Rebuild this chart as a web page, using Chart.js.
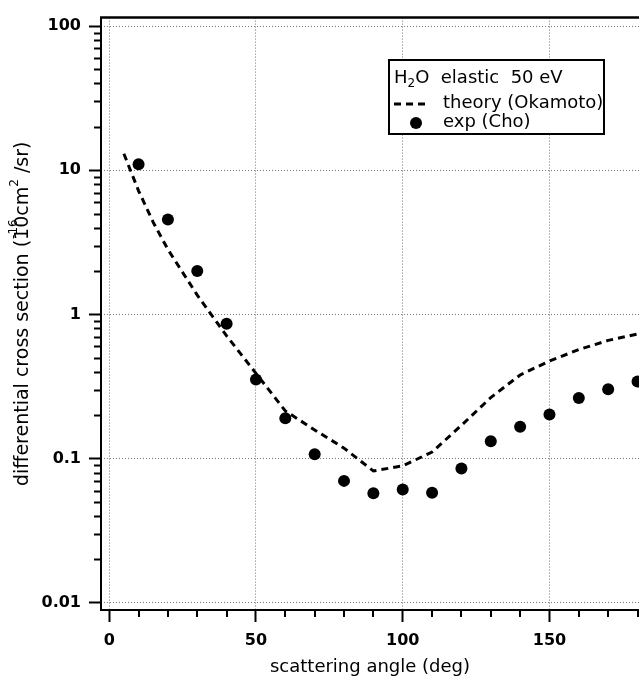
<!DOCTYPE html>
<html>
<head>
<meta charset="utf-8">
<script src="https://cdn.jsdelivr.net/npm/chart.js@4.4.0/dist/chart.umd.min.js"></script>
<style>
  html, body { margin: 0; padding: 0; background: #fff; }
</style>
</head>
<body>
<canvas id="myChart" width="639" height="679"></canvas>
<script>
// exp (Cho) : angle in deg, cross section in 1e-16 cm2/sr
var expAngles = [10, 20, 30, 40, 50, 60, 70, 80, 90, 100, 110, 120, 130, 140, 150, 160, 170, 180];
var expValues = [11.0, 4.55, 2.0, 0.86, 0.353, 0.19, 0.107, 0.070, 0.0574, 0.061, 0.058, 0.0853, 0.132, 0.166, 0.202, 0.263, 0.303, 0.342];

// theory (Okamoto)
var theoryAngles = [5, 10, 15, 20, 30, 40, 50, 60, 70, 80, 90, 100, 110, 120, 130, 140, 150, 160, 170, 180];
var theoryValues = [13.0, 7.2, 4.35, 2.82, 1.36, 0.71, 0.39, 0.214, 0.158, 0.118, 0.082, 0.089, 0.111, 0.17, 0.265, 0.38, 0.475, 0.57, 0.66, 0.73];

var xMajorTicks = [0, 50, 100, 150];
var yMajorTicks = [0.01, 0.1, 1, 10, 100];

var xTitle = "scattering angle (deg)";
var legendLabels = ["theory (Okamoto)", "exp (Cho)"];

var FONT = "'DejaVu Sans', sans-serif";

function pts(xs, ys) {
  return xs.map(function (x, i) { return { x: x, y: ys[i] }; });
}

// axis lines, minor ticks, y title and the boxed legend
var extras = {
  id: "extras",
  afterDraw: function (chart) {
    var ctx = chart.ctx, a = chart.chartArea;
    var xs = chart.scales.x, ys = chart.scales.y;
    ctx.save();
    ctx.setLineDash([]);
    ctx.strokeStyle = "#000";

    // frame: left, bottom, top
    ctx.lineWidth = 2;
    ctx.beginPath();
    ctx.moveTo(a.left, a.top);
    ctx.lineTo(a.left, a.bottom);
    ctx.lineTo(a.right, a.bottom);
    ctx.stroke();
    ctx.lineWidth = 2.5;
    ctx.beginPath();
    ctx.moveTo(a.left - 1, a.top);
    ctx.lineTo(a.right, a.top);
    ctx.stroke();

    // minor ticks
    ctx.lineWidth = 2;
    ctx.beginPath();
    for (var d = 0.01; d < 50; d *= 10) {
      for (var k = 2; k <= 9; k++) {
        var y = Math.round(ys.getPixelForValue(d * k)) + 0.5;
        ctx.moveTo(a.left - 7, y);
        ctx.lineTo(a.left, y);
      }
    }
    for (var ang = 10; ang <= 180; ang += 10) {
      if (ang % 50 === 0) continue;
      var x = Math.round(xs.getPixelForValue(ang));
      ctx.moveTo(x, a.bottom);
      ctx.lineTo(x, a.bottom + 7);
    }
    ctx.stroke();

    // y title with superscripts
    ctx.fillStyle = "#000";
    ctx.textBaseline = "middle";
    ctx.textAlign = "left";
    var big = "19px " + FONT, small = "12px " + FONT;
    var parts = [
      ["differential cross section (", big, 0],
      ["10", big, 0],
      ["cm", big, 0],
      ["2", small, -8],
      [" /sr)", big, 0]
    ];
    var total = 0;
    parts.forEach(function (p) { ctx.font = p[1]; p.push(ctx.measureText(p[0]).width); total += p[3]; });
    ctx.translate(23, (a.top + a.bottom) / 2);
    ctx.rotate(-Math.PI / 2);
    var cx = -total / 2, x10 = 0;
    parts.forEach(function (p) {
      ctx.font = p[1];
      if (p[0] === "10") x10 = cx;
      ctx.fillText(p[0], cx, p[2]);
      cx += p[3];
    });
    ctx.font = small;
    ctx.fillText("-16", x10 + 1, -9);
    ctx.setTransform(1, 0, 0, 1, 0, 0);

    // legend box
    var bx = 389, by = 60, bw = 215, bh = 74;
    ctx.fillStyle = "#fff";
    ctx.fillRect(bx, by, bw, bh);
    ctx.lineWidth = 2;
    ctx.strokeRect(bx, by, bw, bh);
    ctx.fillStyle = "#000";
    ctx.textBaseline = "middle";
    var lf = "18px " + FONT;
    ctx.font = lf;
    var tx = 394, ty = 78;
    ctx.fillText("H", tx, ty);
    tx += ctx.measureText("H").width;
    ctx.font = "12px " + FONT;
    ctx.fillText("2", tx, ty + 6);
    tx += ctx.measureText("2").width;
    ctx.font = lf;
    ctx.fillText("O  elastic  50 eV", tx, ty);

    ctx.lineWidth = 3;
    ctx.setLineDash([7, 5]);
    ctx.beginPath();
    ctx.moveTo(394, 104);
    ctx.lineTo(428, 104);
    ctx.stroke();
    ctx.setLineDash([]);
    ctx.fillText(legendLabels[0], 443, 103);

    ctx.beginPath();
    ctx.arc(416, 123, 6, 0, Math.PI * 2);
    ctx.fill();
    ctx.fillText(legendLabels[1], 443, 122);

    ctx.restore();
  }
};

var ctx = document.getElementById("myChart").getContext("2d");
var chart = new Chart(ctx, {
  type: "scatter",
  data: {
    datasets: [
      {
        label: legendLabels[0],
        data: pts(theoryAngles, theoryValues),
        showLine: true,
        borderColor: "#000",
        borderWidth: 3,
        borderDash: [7, 5],
        pointRadius: 0,
        tension: 0,
        fill: false
      },
      {
        label: legendLabels[1],
        data: pts(expAngles, expValues),
        showLine: false,
        pointRadius: 6,
        pointBackgroundColor: "#000",
        pointBorderColor: "#000",
        pointBorderWidth: 0
      }
    ]
  },
  options: {
    responsive: false,
    devicePixelRatio: 1,
    animation: false,
    layout: { autoPadding: false, padding: { top: 14, right: 0, left: 0, bottom: 0 } },
    plugins: { legend: { display: false }, tooltip: { enabled: false } },
    scales: {
      x: {
        type: "linear",
        min: -2.8,
        max: 180.5,
        afterBuildTicks: function (scale) {
          scale.ticks = xMajorTicks.map(function (v) { return { value: v }; });
        },
        afterFit: function (scale) { scale.height = 69; },
        grid: { color: "#777", lineWidth: 1, tickLength: 12, tickColor: "#000", tickWidth: 2 },
        border: { display: false, dash: [1, 2] },
        ticks: {
          color: "#000",
          padding: 9,
          maxRotation: 0,
          font: { family: FONT, size: 16, weight: "bold" },
          callback: function (v) { return String(v); }
        },
        title: {
          display: true,
          text: xTitle,
          color: "#000",
          padding: { top: 0, bottom: 1 },
          font: { family: FONT, size: 18 }
        }
      },
      y: {
        type: "logarithmic",
        min: 0.0089,
        max: 114.5,
        afterBuildTicks: function (scale) {
          scale.ticks = yMajorTicks.map(function (v) { return { value: v }; });
        },
        afterFit: function (scale) { scale.width = 101; },
        grid: { color: "#777", lineWidth: 1, tickLength: 12, tickColor: "#000", tickWidth: 2 },
        border: { display: false, dash: [1, 2] },
        ticks: {
          color: "#000",
          padding: 8,
          font: { family: FONT, size: 16, weight: "bold" },
          callback: function (v) { return String(v); }
        }
      }
    }
  },
  plugins: [extras]
});
</script>
</body>
</html>
